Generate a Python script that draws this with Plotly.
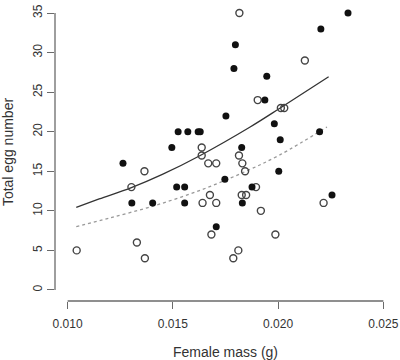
import plotly.graph_objects as go

# Filled points (group 1)
filled_mass = [0.01263, 0.01305, 0.01404, 0.01495, 0.01525, 0.01571, 0.01620, 0.01630,
               0.01518, 0.01556, 0.01556, 0.01706, 0.01747, 0.01752, 0.01790, 0.01797,
               0.01827, 0.01830, 0.01876, 0.01937, 0.01946, 0.01982, 0.02003, 0.02010,
               0.02197, 0.02203, 0.02256, 0.02332]
filled_eggs = [16, 11, 11, 18, 20, 20, 20, 20,
               13, 13, 11, 8, 14, 22, 28, 31,
               18, 11, 13, 24, 27, 21, 15, 19,
               20, 33, 12, 35]

# Open points (group 2)
open_mass = [0.01043, 0.01303, 0.01329, 0.01365, 0.01367, 0.01637, 0.01637, 0.01641,
             0.01668, 0.01676, 0.01683, 0.01706, 0.01706, 0.01787, 0.01811, 0.01814,
             0.01816, 0.01827, 0.01830, 0.01843, 0.01848, 0.01895, 0.01903, 0.01918,
             0.01987, 0.02013, 0.02029, 0.02127, 0.02216]
open_eggs = [5, 13, 6, 15, 4, 18, 17, 11,
             16, 12, 7, 16, 11, 4, 5, 17,
             35, 12, 16, 15, 12, 13, 24, 10,
             7, 23, 23, 29, 11]

# Fitted curves
solid_x = [0.01041, 0.0115, 0.0130, 0.0145, 0.0163, 0.01867, 0.0201, 0.0224]
solid_y = [10.45, 11.5, 12.9, 14.6, 17.0, 20.6, 23.0, 26.95]
dotted_x = [0.01041, 0.0120, 0.01406, 0.0163, 0.01843, 0.0201, 0.02232]
dotted_y = [8.0, 9.1, 10.6, 12.6, 14.95, 17.1, 20.6]

x_ticks = [0.010, 0.015, 0.020, 0.025]
x_tick_text = ["0.010", "0.015", "0.020", "0.025"]
y_ticks = [0, 5, 10, 15, 20, 25, 30, 35]

x_title = "Female mass (g)"
y_title = "Total egg number"

fig = go.Figure()
fig.add_trace(go.Scatter(x=solid_x, y=solid_y, mode="lines",
                         line=dict(color="#333333", width=1.3, shape="spline"),
                         hoverinfo="skip"))
fig.add_trace(go.Scatter(x=dotted_x, y=dotted_y, mode="lines",
                         line=dict(color="#999999", width=1.3, dash="dot", shape="spline"),
                         hoverinfo="skip"))
fig.add_trace(go.Scatter(x=open_mass, y=open_eggs, mode="markers",
                         marker=dict(symbol="circle-open", size=7, color="#444444",
                                     line=dict(width=1.4, color="#444444"))))
fig.add_trace(go.Scatter(x=filled_mass, y=filled_eggs, mode="markers",
                         marker=dict(symbol="circle", size=7, color="#111111")))

axis_col = "#6a6a6a"
font_col = "#333333"
# detached R-style axis lines
fig.add_shape(type="line", xref="paper", yref="y", x0=0, x1=0, y0=0, y1=35,
              line=dict(color=axis_col, width=1.3))
fig.add_shape(type="line", xref="x", yref="paper", x0=0.010, x1=0.025, y0=0, y1=0,
              line=dict(color=axis_col, width=1.3))

fig.add_annotation(text=x_title, xref="paper", yref="paper", x=0.5, y=-0.17,
                   xanchor="center", yanchor="middle", showarrow=False,
                   font=dict(size=14, color=font_col))
fig.add_annotation(text=y_title, xref="paper", yref="paper", x=-0.139, y=0.5,
                   xanchor="center", yanchor="middle", showarrow=False, textangle=-90,
                   font=dict(size=14, color=font_col))

fig.update_layout(
    width=400, height=360,
    margin=dict(l=55, r=4, t=2, b=59),
    paper_bgcolor="white", plot_bgcolor="white",
    showlegend=False,
    font=dict(family="Liberation Sans, Arial, sans-serif", color=font_col, size=12),
    xaxis=dict(range=[0.0094, 0.0256], tickvals=x_ticks, ticktext=x_tick_text,
               ticks="outside", ticklen=7, tickcolor=axis_col, tickwidth=1.3,
               showgrid=False, zeroline=False, showline=False, automargin=False,
               ticklabeloverflow="allow", ticklabelstandoff=5,
               tickfont=dict(size=12, color=font_col)),
    yaxis=dict(range=[-1.4, 36.4], tickvals=y_ticks,
               ticks="outside", ticklen=7, tickcolor=axis_col, tickwidth=1.3,
               tickangle=-90, automargin=False,
               showgrid=False, zeroline=False, showline=False,
               tickfont=dict(size=12, color=font_col)),
)

fig.write_html("out.html", config={"displayModeBar": False},
               post_script="document.body.style.margin='0';document.body.style.padding='0';")
